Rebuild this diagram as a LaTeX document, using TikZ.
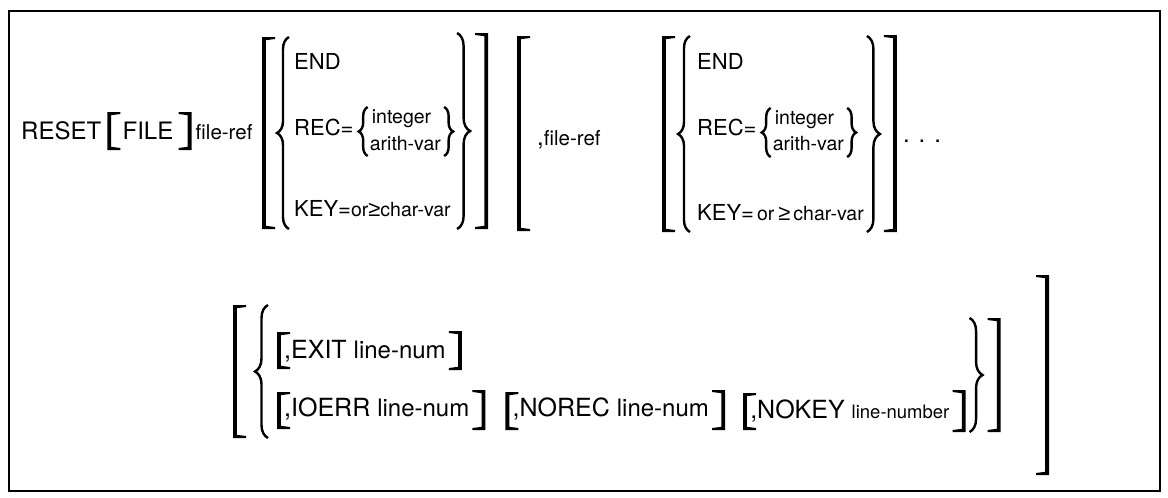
\documentclass[tikz,border=0pt]{standalone}
\usepackage{fontspec}
\setmainfont{TeX Gyre Heros}
\newfontfamily\lsf{Liberation Sans}
\usetikzlibrary{decorations.pathreplacing,calc}
% left square bracket: #1 = coordinate giving the left x, #2 top, #3 bottom
\newcommand\LB[3]{\fill[shift={(#1 |- 0,0)}] (0,#2) -- (13,#2) -- (13,{#2+2}) -- (3.8,{#2+3.2}) -- (3.8,{#3-3.2}) -- (13,{#3-2}) -- (13,#3) -- (0,#3) -- cycle;}
% right square bracket: #1 = coordinate giving the left x of the serifs
\newcommand\RB[3]{\fill[shift={(#1 |- 0,0)}] (13,#2) -- (0,#2) -- (0,{#2+2}) -- (9.2,{#2+3.2}) -- (9.2,{#3-3.2}) -- (0,{#3-2}) -- (0,#3) -- (13,#3) -- cycle;}
% left brace: #1 left x (tip), #2 top, #3 bottom, #4 amplitude
\newcommand\LBr[4]{\draw[brc=#4pt,shift={(#1 |- 0,0)}] (#4,#3) -- (#4,#2);}
% right brace: #1 left x, #2 top, #3 bottom, #4 amplitude
\newcommand\RBr[4]{\draw[brc=#4pt,shift={(#1 |- 0,0)}] (0,#2) -- (0,#3);}
\newcommand\lc{\fontsize{20.5}{24}\selectfont}
\newcommand\glc{\fontsize{19.5}{23}\selectfont}
\newcommand\rlc{\fontsize{24}{27}\selectfont}
\newcommand\rsm{\fontsize{18.5}{22}\selectfont}
\newcommand\gesym{{\lsf ≥}}
\begin{document}
\begin{tikzpicture}[x=1pt,y=-1pt,
  ctxt/.style={anchor=base west,inner sep=0pt,font=\fontsize{24}{28}\selectfont},
  gtxt/.style={anchor=base west,inner sep=0pt,font=\fontsize{22}{26}\selectfont},
  rtxt/.style={anchor=base west,inner sep=0pt,font=\fontsize{25}{28}\selectfont},
  brc/.style={decorate,decoration={brace,amplitude=#1},line width=2.4pt},
]
\useasboundingbox (0,0) rectangle (1168,498);
\draw[line width=1.6pt] (9,11) rectangle (1160,491);
% ---------------- row 1 ----------------
\node[ctxt] (reset) at (21,139) {RESET};
\coordinate (k1) at ([xshift=6pt]reset.base east);
\LB{k1}{112}{150}
\node[ctxt] (file) at ([xshift=21pt]reset.base east) {FILE};
\coordinate (k2) at ([xshift=5pt]file.base east);
\RB{k2}{112}{150}
\node[ctxt] (fref) at ([xshift=22pt]file.base east) {\lc file-ref};
% first option group
\LB{262,0}{37}{229}
\LBr{277,0}{37}{229}{12}
\node[gtxt] (endA) at (294,69) {END};
\node[gtxt] (recA) at (294,135) {REC=};
\coordinate (k3) at ([xshift=5pt]recA.base east);
\LBr{k3}{107}{156}{9}
\node[gtxt] (intA) at ([xshift=18pt]recA.base east |- 0,123) {\glc integer};
\node[gtxt] (arA) at ([xshift=16pt]recA.base east |- 0,150) {\glc arith-var};
\coordinate (k4) at ([xshift=3pt]arA.base east);
\RBr{k4}{107}{156}{9}
\node[gtxt] (keyA) at (294,216) {KEY={\glc or}\gesym{\glc char-var}};
\path let \p1=(keyA.base east), \p2=(arA.base east) in coordinate (k5) at ({max(\x1,\x2+13)+3},0);
\RBr{k5}{33}{229}{13}
\coordinate (k6) at ([xshift=18pt]k5);
\RB{k6}{33}{229}
% second: , file-ref group
\LB{517,0}{36}{231}
\node[ctxt] (frefB) at (537,145) {,{\lc file-ref}};
\LB{662,0}{36}{232}
\LBr{678,0}{36}{232}{12}
\node[gtxt] (endB) at (697,69) {END};
\node[gtxt] (recB) at (697,135) {REC=};
\coordinate (k7) at ([xshift=5pt]recB.base east);
\LBr{k7}{108}{157}{9}
\node[gtxt] (intB) at ([xshift=18pt]recB.base east |- 0,124) {\glc integer};
\node[gtxt] (arB) at ([xshift=16pt]recB.base east |- 0,150) {\glc arith-var};
\coordinate (k8) at ([xshift=3pt]arB.base east);
\RBr{k8}{108}{157}{9}
\node[gtxt] (keyB) at (697,220) {KEY=\hspace{3pt}{\glc or}\hspace{4pt}\gesym\hspace{3pt}{\glc char-var}};
\path let \p1=(keyB.base east), \p2=(arB.base east) in coordinate (k9) at ({max(\x1,\x2+13)+3},0);
\RBr{k9}{36}{232}{13}
\coordinate (k10) at ([xshift=17pt]k9);
\RB{k10}{35}{232}
\node[ctxt] (dots) at ([xshift=36pt]k9 |- 0,142) {. . .};
% ---------------- row 2 ----------------
\LB{233,0}{305}{438}
\LBr{255,0}{305}{438}{13}
\LB{277,0}{332}{369}
\node[rtxt] (exit) at (284,358) {,EXIT {\rlc line-num}};
\coordinate (m1) at ([xshift=3pt]exit.base east);
\RB{m1}{331}{370}
\LB{277,0}{392}{429}
\node[rtxt] (ioerr) at (284,416) {,IOERR {\rlc line-num}};
\coordinate (m2) at ([xshift=3pt]ioerr.base east);
\RB{m2}{390}{430}
\coordinate (m3) at ([xshift=36pt]ioerr.base east);
\LB{m3}{392}{430}
\node[rtxt] (norec) at ([xshift=43pt]ioerr.base east) {,NOREC {\rlc line-num}};
\coordinate (m4) at ([xshift=3pt]norec.base east);
\RB{m4}{390}{430}
\coordinate (m5) at ([xshift=34pt]norec.base east);
\LB{m5}{393}{430}
\node[rtxt] (nokey) at ([xshift=41pt]norec.base east |- 0,418) {,NOKEY {\rsm line-number}};
\coordinate (m6) at ([xshift=3pt]nokey.base east);
\RB{m6}{390}{432}
\coordinate (m7) at ([xshift=20pt]nokey.base east);
\RBr{m7}{318}{432}{13}
\coordinate (m8) at ([xshift=38pt]nokey.base east);
\RB{m8}{318}{432}
\RB{1036,0}{275}{475}
\end{tikzpicture}
\end{document}
